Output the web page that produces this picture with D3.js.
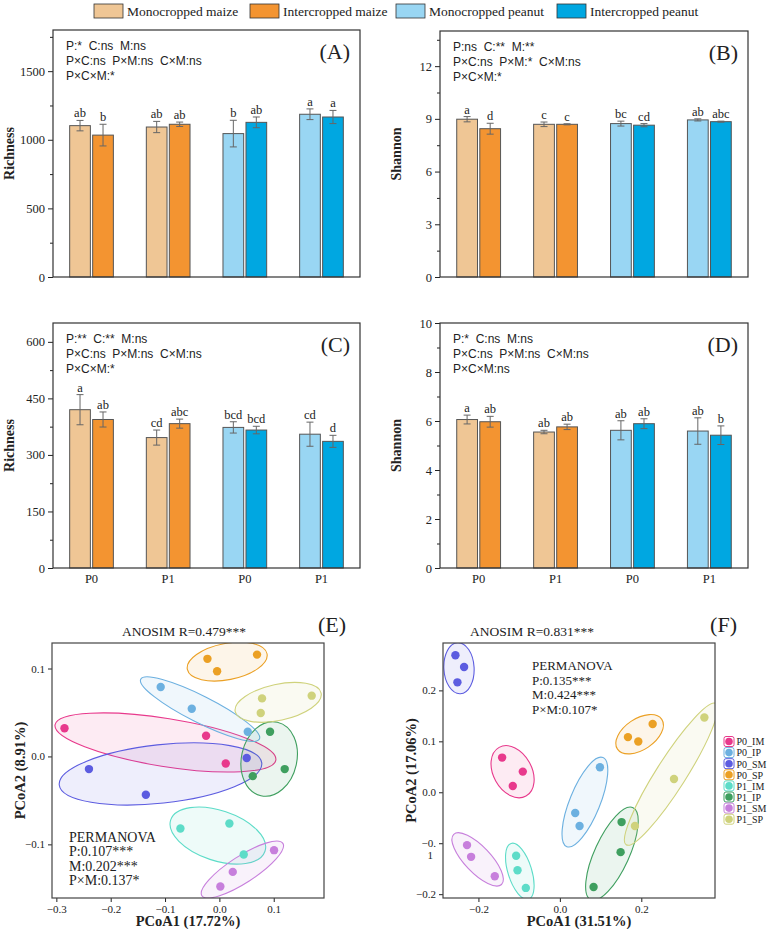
<!DOCTYPE html>
<html>
<head>
<meta charset="utf-8">
<script src="https://cdn.jsdelivr.net/npm/d3@7"></script>
<style>
  body { margin: 0; background: #fff; }
  svg text { font-family: "Liberation Serif", "Times New Roman", serif; fill: #222; }
  svg text.stat { font-family: "Liberation Sans", Arial, sans-serif; white-space: pre; }
</style>
</head>
<body>
<svg id="fig" width="767" height="929"></svg>
<script>
// ---- bar panels (A-D) ----
// values go mono, inter for each group in turn
const groups = ["maize_P0", "maize_P1", "peanut_P0", "peanut_P1"];
const groupLabels = ["P0", "P1", "P0", "P1"];
const seriesNames = ["Monocropped maize", "Intercropped maize", "Monocropped peanut", "Intercropped peanut"];
const seriesColors = ["#efc695", "#f39431", "#99d6f3", "#00a7e1"];

const richA = [1103, 1034, 1093, 1113, 1045, 1127, 1186, 1166];
const richAErr = [38, 79, 41, 16, 97, 39, 39, 48];
const richALetters = ["ab", "b", "ab", "ab", "b", "ab", "a", "a"];
const statA = ["P:*  C:ns  M:ns", "P×C:ns  P×M:ns  C×M:ns", "P×C×M:*"];

const shanB = [8.98, 8.44, 8.69, 8.69, 8.73, 8.64, 8.94, 8.84];
const shanBErr = [0.15, 0.31, 0.13, 0.03, 0.14, 0.09, 0.06, 0.03];
const shanBLetters = ["a", "d", "c", "c", "bc", "cd", "ab", "abc"];
const statB = ["P:ns  C:**  M:**", "P×C:ns  P×M:*  C×M:ns", "P×C×M:*"];

const richC = [420, 394, 346, 383, 373, 366, 355, 336];
const richCErr = [40, 20, 20, 12, 15, 10, 32, 16];
const richCLetters = ["a", "ab", "cd", "abc", "bcd", "bcd", "cd", "d"];
const statC = ["P:**  C:**  M:ns", "P×C:ns  P×M:ns  C×M:ns", "P×C×M:*"];

const shanD = [6.06, 5.97, 5.55, 5.76, 5.62, 5.89, 5.59, 5.42];
const shanDErr = [0.18, 0.22, 0.07, 0.11, 0.39, 0.2, 0.54, 0.38];
const shanDLetters = ["a", "ab", "ab", "ab", "ab", "ab", "ab", "b"];
const statD = ["P:*  C:ns  M:ns", "P×C:ns  P×M:ns  C×M:ns", "P×C×M:ns"];

// ---- PCoA panels (E, F), 3 samples per group ----
const pcoaGroups = ["P0_IM", "P0_IP", "P0_SM", "P0_SP", "P1_IM", "P1_IP", "P1_SM", "P1_SP"];
const pcoaColors = ["#e8398c", "#6cb0e0", "#5c5ce0", "#eba024", "#5ddcc8", "#3f9f5f", "#c77fdc", "#cfd27c"];

const pcoaE1 = [-0.285, -0.0245, 0.0117, -0.108, -0.0508, 0.0522, -0.240, -0.1353, 0.0503, -0.022, -0.0042, 0.0693,
                -0.0717, 0.0184, 0.0448, 0.0932, 0.1202, 0.0614, 0.1006, 0.0246, 0.0018, 0.1699, 0.0785, 0.0761];
const pcoaE2 = [0.032, 0.0236, -0.008, 0.079, 0.0543, 0.0281, -0.0144, -0.0436, -0.0018, 0.111, 0.0968, 0.1158,
                -0.082, -0.0763, -0.1116, 0.0281, -0.0144, -0.0224, -0.1066, -0.1313, -0.148, 0.0691, 0.066, 0.0494];
const permE = ["PERMANOVA", "P:0.107***", "M:0.202***", "P×M:0.137*"];

const pcoaF1 = [-0.1418, -0.091, -0.1156, 0.0984, 0.0377, 0.0484, -0.2565, -0.2352, -0.2516, 0.1672, 0.1926, 0.2279,
                -0.1074, -0.104, -0.0836, 0.1516, 0.1492, 0.0828, -0.228, -0.218, -0.1598, 0.3549, 0.2803, 0.1844];
const pcoaF2 = [0.0681, 0.0406, 0.0124, 0.0492, -0.0408, -0.0663, 0.269, 0.246, 0.2158, 0.1083, 0.0997, 0.1339,
                -0.1247, -0.153, -0.1877, -0.0585, -0.1175, -0.1858, -0.1037, -0.1267, -0.1648, 0.1469, 0.0262, -0.0663];
const permF = ["PERMANOVA", "P:0.135***", "M:0.424***", "P×M:0.107*"];

const serif = "'Liberation Serif', 'Times New Roman', serif"

let svg = d3.select("#fig")

// top legend
let legX = [94, 250, 396, 557]
let leg = svg.append("g").selectAll("g").data(seriesNames).enter().append("g")
    .attr("transform", (d, i) => "translate(" + legX[i] + ",4)")
leg.append("rect").attr("width", 29).attr("height", 14)
    .attr("fill", (d, i) => seriesColors[i]).attr("stroke", "#333").attr("stroke-width", 0.8)
leg.append("text").attr("x", 33).attr("y", 11.5).style("font-size", "13.5px").text(d => d)


function drawBars(box, maxY, majors, minors, values, errs, letters, stats, tag, ylabel, showX) {
    let g = svg.append("g")

    let y = d3.scaleLinear().domain([0, maxY]).range([box.bottom, box.top])
    let x0 = d3.scaleBand().domain(groups).range([box.left, box.right])
        .paddingInner(0.43).paddingOuter(0.2175)
    let x1 = d3.scaleBand().domain([0, 1]).range([0, x0.bandwidth()]).paddingInner(0.1)

    let rows = values.map((v, i) => ({
        v: v, e: errs[i], lab: letters[i],
        grp: groups[Math.floor(i / 2)], s: i % 2,
        col: seriesColors[(i >= 4 ? 2 : 0) + i % 2]
    }))

    g.selectAll("rect.bar").data(rows).enter().append("rect")
        .attr("class", "bar")
        .attr("x", d => x0(d.grp) + x1(d.s))
        .attr("width", x1.bandwidth())
        .attr("y", d => y(d.v))
        .attr("height", d => y(0) - y(d.v))
        .attr("fill", d => d.col)
        .attr("stroke", "#555").attr("stroke-width", 1)

    // error bars
    let eb = g.selectAll("g.err").data(rows).enter().append("g")
        .attr("stroke", "#666").attr("stroke-width", 1)
    let cx = d => x0(d.grp) + x1(d.s) + x1.bandwidth() / 2
    eb.append("line").attr("x1", cx).attr("x2", cx)
        .attr("y1", d => y(d.v - d.e)).attr("y2", d => y(d.v + d.e))
    eb.append("line").attr("x1", d => cx(d) - 3.5).attr("x2", d => cx(d) + 3.5)
        .attr("y1", d => y(d.v + d.e)).attr("y2", d => y(d.v + d.e))
    eb.append("line").attr("x1", d => cx(d) - 3.5).attr("x2", d => cx(d) + 3.5)
        .attr("y1", d => y(d.v - d.e)).attr("y2", d => y(d.v - d.e))

    g.selectAll("text.sig").data(rows).enter().append("text")
        .attr("x", cx).attr("y", d => y(d.v + d.e) - 3)
        .attr("text-anchor", "middle").style("font-size", "12.5px")
        .text(d => d.lab)

    // axes
    let ax = g.append("g").attr("transform", "translate(" + box.left + ",0)")
        .call(d3.axisLeft(y).tickValues(majors).tickSize(5).tickPadding(3).tickFormat(d3.format("d")))
    ax.attr("font-family", serif)
    ax.selectAll("text").style("font-size", "12.5px")
    g.append("g").attr("transform", "translate(" + box.left + ",0)")
        .call(d3.axisLeft(y).tickValues(minors).tickSize(3).tickFormat(""))
    g.selectAll(".domain").remove()
    g.selectAll(".tick line").attr("stroke", "#222")

    if (showX) {
        g.selectAll("text.xl").data(groups).enter().append("text")
            .attr("x", d => x0(d) + x0.bandwidth() / 2).attr("y", box.bottom + 15)
            .attr("text-anchor", "middle").style("font-size", "12.5px")
            .text((d, i) => groupLabels[i])
    }

    g.append("rect").attr("x", box.left).attr("y", box.top)
        .attr("width", box.right - box.left).attr("height", box.bottom - box.top)
        .attr("fill", "none").attr("stroke", "#333").attr("stroke-width", 1.2)

    g.selectAll("text.st").data(stats).enter().append("text")
        .attr("class", "stat")
        .attr("x", box.left + 13).attr("y", (d, i) => box.top + 20 + i * 15)
        .style("font-size", "12px").text(d => d)

    g.append("text").attr("x", box.right - 10).attr("y", box.top + 29)
        .attr("text-anchor", "end").style("font-size", "22px").text(tag)

    g.append("text")
        .attr("transform", "translate(" + (box.left - 39) + "," + ((box.top + box.bottom) / 2) + ") rotate(-90)")
        .attr("text-anchor", "middle").style("font-size", "14px").style("font-weight", "bold")
        .text(ylabel)
}

drawBars({left: 53, right: 360, top: 30, bottom: 277}, 1800, [0, 500, 1000, 1500], [250, 750, 1250, 1750],
    richA, richAErr, richALetters, statA, "(A)", "Richness", false)
drawBars({left: 440, right: 748, top: 31, bottom: 277}, 14, [0, 3, 6, 9, 12], [1.5, 4.5, 7.5, 10.5, 13.5],
    shanB, shanBErr, shanBLetters, statB, "(B)", "Shannon", false)
drawBars({left: 53, right: 360, top: 323, bottom: 568}, 650, [0, 150, 300, 450, 600], [75, 225, 375, 525],
    richC, richCErr, richCLetters, statC, "(C)", "Richness", true)
drawBars({left: 440, right: 748, top: 323, bottom: 568}, 10, [0, 2, 4, 6, 8, 10], [1, 3, 5, 7, 9],
    shanD, shanDErr, shanDLetters, statD, "(D)", "Shannon", true)


function drawPcoa(id, box, xdom, ydom, xt, yt, pc1, pc2, anosim, anoX, perm, permX, permY, permSize, tag, xlab, ylab) {
    let g = svg.append("g")
    let x = d3.scaleLinear().domain(xdom).range([box.left, box.right])
    let y = d3.scaleLinear().domain(ydom).range([box.bottom, box.top])

    g.append("clipPath").attr("id", "clip" + id).append("rect")
        .attr("x", box.left).attr("y", box.top)
        .attr("width", box.right - box.left).attr("height", box.bottom - box.top)

    let pts = pc1.map((v, i) => ({px: x(v), py: y(pc2[i]), gi: Math.floor(i / 3)}))
    let inner = g.append("g").attr("clip-path", "url(#clip" + id + ")")

    // ellipses around each group, from the spread of its points
    pcoaGroups.forEach((name, gi) => {
        let p = pts.filter(d => d.gi == gi)
        let mx = d3.mean(p, d => d.px), my = d3.mean(p, d => d.py)
        let a = d3.mean(p, d => (d.px - mx) ** 2)
        let c = d3.mean(p, d => (d.py - my) ** 2)
        let b = d3.mean(p, d => (d.px - mx) * (d.py - my))
        let half = (a + c) / 2
        let disc = Math.sqrt(Math.max(half * half - (a * c - b * b), 0))
        let l1 = half + disc, l2 = Math.max(half - disc, 0)
        let ang = 0.5 * Math.atan2(2 * b, a - c) * 180 / Math.PI
        inner.append("ellipse")
            .attr("cx", mx).attr("cy", my)
            .attr("rx", 1.4 * Math.sqrt(l1) + 10).attr("ry", 1.4 * Math.sqrt(l2) + 10)
            .attr("transform", "rotate(" + ang + "," + mx + "," + my + ")")
            .attr("fill", pcoaColors[gi]).attr("fill-opacity", 0.1)
            .attr("stroke", pcoaColors[gi]).attr("stroke-width", 1.1)
    })

    inner.selectAll("circle").data(pts).enter().append("circle")
        .attr("cx", d => d.px).attr("cy", d => d.py).attr("r", 4.2)
        .attr("fill", d => pcoaColors[d.gi])

    let fmt = d3.format(".1f")
    let ax = g.append("g").attr("transform", "translate(0," + box.bottom + ")")
        .call(d3.axisBottom(x).tickValues(xt).tickSize(4).tickPadding(3).tickFormat(fmt))
    let ay = g.append("g").attr("transform", "translate(" + box.left + ",0)")
        .call(d3.axisLeft(y).tickValues(yt).tickSize(4).tickPadding(3).tickFormat(fmt))
    ax.attr("font-family", serif)
    ay.attr("font-family", serif)
    g.selectAll(".domain").remove()
    g.selectAll(".tick text").style("font-size", "11px")
    g.selectAll(".tick line").attr("stroke", "#222")

    g.append("rect").attr("x", box.left).attr("y", box.top)
        .attr("width", box.right - box.left).attr("height", box.bottom - box.top)
        .attr("fill", "none").attr("stroke", "#444").attr("stroke-width", 1.2)

    g.append("text").attr("x", anoX).attr("y", box.top - 7).attr("text-anchor", "middle")
        .style("font-size", "13.5px").text(anosim)
    g.append("text").attr("x", box.right + 22).attr("y", box.top - 11).attr("text-anchor", "end")
        .style("font-size", "22px").text(tag)

    g.selectAll("text.perm").data(perm).enter().append("text")
        .attr("x", permX).attr("y", (d, i) => permY + i * 14.5)
        .style("font-size", permSize).text(d => d)

    g.append("text").attr("x", (box.left + box.right) / 2).attr("y", box.bottom + 28)
        .attr("text-anchor", "middle").style("font-size", "14.5px").style("font-weight", "bold").text(xlab)
    g.append("text")
        .attr("transform", "translate(" + (box.left - 27) + "," + ((box.top + box.bottom) / 2) + ") rotate(-90)")
        .attr("text-anchor", "middle").style("font-size", "14.5px").style("font-weight", "bold").text(ylab)
    return ay
}

drawPcoa("E", {left: 52, right: 324, top: 643, bottom: 898}, [-0.308, 0.1925], [-0.161, 0.129],
    [-0.3, -0.2, -0.1, 0.0, 0.1], [-0.1, 0.0, 0.1], pcoaE1, pcoaE2,
    "ANOSIM R=0.479***", 184, permE, 69, 841.5, "14px", "(E)", "PCoA1 (17.72%)", "PCoA2 (8.91%)")

let ayF = drawPcoa("F", {left: 443, right: 715, top: 643, bottom: 898}, [-0.287, 0.381], [-0.2075, 0.293],
    [-0.2, 0.0, 0.2], [-0.2, -0.1, 0.0, 0.1, 0.2], pcoaF1, pcoaF2,
    "ANOSIM R=0.831***", 532, permF, 532, 670, "13px", "(F)", "PCoA1 (31.51%)", "PCoA2 (17.06%)")

// the -0.1 label wraps onto two lines in the original
ayF.selectAll(".tick text").filter(d => Math.abs(d + 0.1) < 1e-9).each(function () {
    let t = d3.select(this)
    t.text("−0.")
    t.append("tspan").attr("x", t.attr("x") - 3).attr("dy", "1.05em").text("1")
})

// group legend for E/F
let gl = svg.append("g").selectAll("g").data(pcoaGroups).enter().append("g")
    .attr("transform", (d, i) => "translate(724," + (741.5 + i * 11.1) + ")")
gl.append("rect").attr("x", 0).attr("y", -5).attr("width", 10).attr("height", 10).attr("rx", 2)
    .attr("fill", "#fff").attr("stroke", (d, i) => pcoaColors[i]).attr("stroke-width", 1)
gl.append("circle").attr("cx", 5).attr("cy", 0).attr("r", 3.8).attr("fill", (d, i) => pcoaColors[i])
gl.append("text").attr("x", 12.5).attr("y", 3.8).style("font-size", "10px").text(d => d)
</script>
</body>
</html>
